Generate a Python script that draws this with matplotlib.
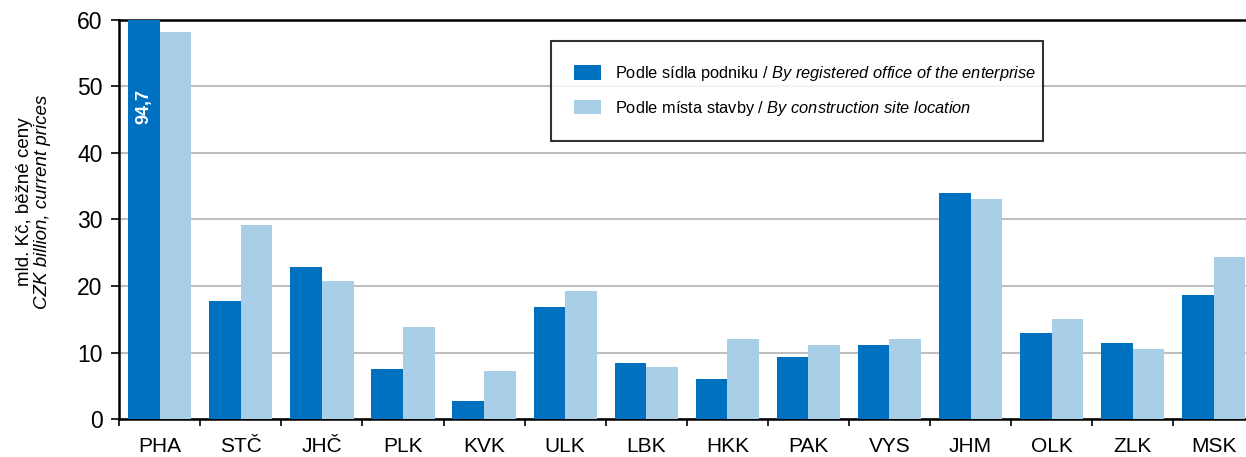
import matplotlib
matplotlib.use("Agg")
import matplotlib.pyplot as plt
import numpy as np

regions = ["PHA", "STČ", "JHČ", "PLK", "KVK", "ULK", "LBK", "HKK", "PAK", "VYS", "JHM", "OLK", "ZLK", "MSK"]
by_office = [94.7, 17.7, 22.8, 7.5, 2.7, 16.8, 8.4, 6.0, 9.3, 11.1, 34.0, 12.9, 11.5, 18.6]
by_site = [58.2, 29.2, 20.7, 13.8, 7.2, 19.2, 7.8, 12.0, 11.1, 12.0, 33.1, 15.0, 10.5, 24.3]
label_office = r"Podle sídla podniku / $\it{By\ registered\ office\ of\ the\ enterprise}$"
label_site = r"Podle místa stavby / $\it{By\ construction\ site\ location}$"
ylabel_cz = "mld. Kč, běžné ceny"
ylabel_en = "CZK billion, current prices"
y_ticks = [0, 10, 20, 30, 40, 50, 60]
clipped_label = "94,7"

plt.rcParams['font.family'] = ['Liberation Sans', 'DejaVu Sans']
plt.rcParams['mathtext.fontset'] = 'custom'
plt.rcParams['mathtext.rm'] = 'Liberation Sans'
plt.rcParams['mathtext.it'] = 'Liberation Sans:italic'
plt.rcParams['mathtext.bf'] = 'Liberation Sans:bold'

dark = "#0070C0"
light = "#A9CEE8"

fig = plt.figure(figsize=(12.46, 4.57), dpi=100)
ax = fig.add_axes([0.0957, 0.0825, 0.911, 0.8748])

x = np.arange(len(regions))
w = 0.39
ax.bar(x - w / 2, by_office, width=w, color=dark, label=label_office, zorder=3)
ax.bar(x + w / 2, by_site, width=w, color=light, label=label_site, zorder=3)

ax.set_ylim(0, 60)
ax.set_xlim(-0.5, len(regions) - 0.5)
ax.set_yticks(y_ticks)
ax.yaxis.grid(True, color="#BFBFBF", linewidth=1.5, zorder=0)
ax.set_axisbelow(True)

ax.set_xticks(x)
ax.set_xticklabels(regions)
ax.set_xticks(np.arange(-0.5, len(regions), 1), minor=True)
ax.tick_params(axis="x", which="major", length=0, pad=13, labelsize=15)
ax.tick_params(axis="x", which="minor", length=5, width=1.2, direction="out")
ax.tick_params(axis="y", length=6, width=1.2, direction="out", labelsize=16.5, pad=6)

for side in ["left", "bottom", "top"]:
    ax.spines[side].set_color("black")
    ax.spines[side].set_linewidth(1.8)
ax.spines["right"].set_visible(False)

fig.text(25 / 1246, 0.558, ylabel_cz, rotation=90, fontsize=13.5,
         ha="center", va="center")
fig.text(43 / 1246, 0.558, ylabel_en, rotation=90, fontsize=13.5,
         fontstyle="italic", ha="center", va="center")

# label for the clipped bar
ax.text(0 - w / 2, 47, clipped_label, rotation=90, color="white",
        fontweight="bold", fontsize=13, ha="center", va="center", zorder=4)

leg = ax.legend(loc="upper left", bbox_to_anchor=(0.380, 0.70, 0.4334, 0.246),
                mode="expand", fontsize=11.8,
                frameon=True, fancybox=False, borderaxespad=0,
                handlelength=1.7, handleheight=0.98, handletextpad=0.85,
                labelspacing=0.95, borderpad=1.4)
leg.get_frame().set_edgecolor("black")
leg.get_frame().set_linewidth(1.5)
leg.set_zorder(5)

fig.savefig("out.png", dpi=100)
